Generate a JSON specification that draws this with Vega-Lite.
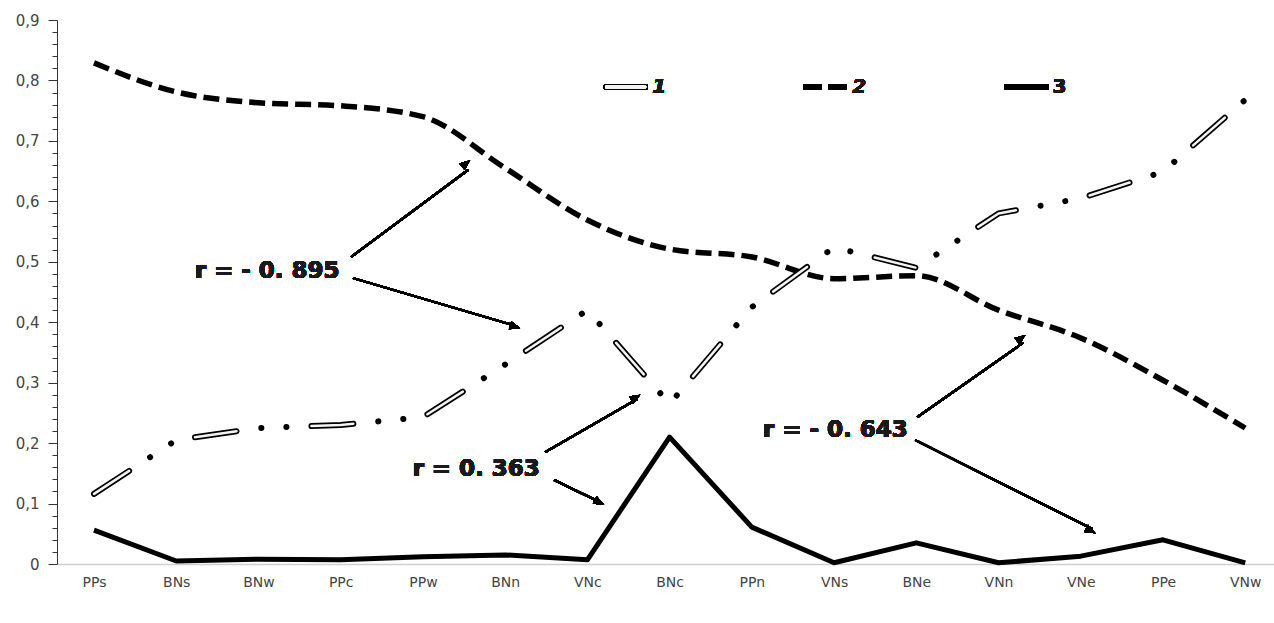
{
  "$schema": "https://vega.github.io/schema/vega-lite/v6.json",
  "width": 1217,
  "height": 544,
  "autosize": {"type": "none"},
  "padding": {"left": 57, "top": 20, "right": 0, "bottom": 59},
  "background": "white",
  "config": {"view": {"stroke": null}, "font": "DejaVu Sans"},
  "data": {"values": [
    {"station": "PPs", "idx": 0, "series": "1", "value": 0.116},
    {"station": "BNs", "idx": 1, "series": "1", "value": 0.205},
    {"station": "BNw", "idx": 2, "series": "1", "value": 0.225},
    {"station": "PPc", "idx": 3, "series": "1", "value": 0.23},
    {"station": "PPw", "idx": 4, "series": "1", "value": 0.243},
    {"station": "BNn", "idx": 5, "series": "1", "value": 0.33},
    {"station": "VNc", "idx": 6, "series": "1", "value": 0.42},
    {"station": "BNc", "idx": 7, "series": "1", "value": 0.265},
    {"station": "PPn", "idx": 8, "series": "1", "value": 0.425},
    {"station": "VNs", "idx": 9, "series": "1", "value": 0.524},
    {"station": "BNe", "idx": 10, "series": "1", "value": 0.49},
    {"station": "VNn", "idx": 11, "series": "1", "value": 0.58},
    {"station": "VNe", "idx": 12, "series": "1", "value": 0.605},
    {"station": "PPe", "idx": 13, "series": "1", "value": 0.649},
    {"station": "VNw", "idx": 14, "series": "1", "value": 0.768},
    {"station": "PPs", "idx": 0, "series": "2", "value": 0.829},
    {"station": "BNs", "idx": 1, "series": "2", "value": 0.781},
    {"station": "BNw", "idx": 2, "series": "2", "value": 0.763},
    {"station": "PPc", "idx": 3, "series": "2", "value": 0.758},
    {"station": "PPw", "idx": 4, "series": "2", "value": 0.74},
    {"station": "BNn", "idx": 5, "series": "2", "value": 0.655},
    {"station": "VNc", "idx": 6, "series": "2", "value": 0.569},
    {"station": "BNc", "idx": 7, "series": "2", "value": 0.521},
    {"station": "PPn", "idx": 8, "series": "2", "value": 0.508},
    {"station": "VNs", "idx": 9, "series": "2", "value": 0.472},
    {"station": "BNe", "idx": 10, "series": "2", "value": 0.477},
    {"station": "VNn", "idx": 11, "series": "2", "value": 0.42},
    {"station": "VNe", "idx": 12, "series": "2", "value": 0.374},
    {"station": "PPe", "idx": 13, "series": "2", "value": 0.304},
    {"station": "VNw", "idx": 14, "series": "2", "value": 0.225},
    {"station": "PPs", "idx": 0, "series": "3", "value": 0.056},
    {"station": "BNs", "idx": 1, "series": "3", "value": 0.005},
    {"station": "BNw", "idx": 2, "series": "3", "value": 0.008},
    {"station": "PPc", "idx": 3, "series": "3", "value": 0.007},
    {"station": "PPw", "idx": 4, "series": "3", "value": 0.012},
    {"station": "BNn", "idx": 5, "series": "3", "value": 0.015},
    {"station": "VNc", "idx": 6, "series": "3", "value": 0.007},
    {"station": "BNc", "idx": 7, "series": "3", "value": 0.21},
    {"station": "PPn", "idx": 8, "series": "3", "value": 0.061},
    {"station": "VNs", "idx": 9, "series": "3", "value": 0.002},
    {"station": "BNe", "idx": 10, "series": "3", "value": 0.035},
    {"station": "VNn", "idx": 11, "series": "3", "value": 0.002},
    {"station": "VNe", "idx": 12, "series": "3", "value": 0.013},
    {"station": "PPe", "idx": 13, "series": "3", "value": 0.04},
    {"station": "VNw", "idx": 14, "series": "3", "value": 0.002}
  ]},
  "encoding": {
    "x": {"field": "idx", "type": "quantitative",
      "scale": {"domain": [-0.45, 14.35], "nice": false, "zero": false},
      "axis": {"values": [0,1,2,3,4,5,6,7,8,9,10,11,12,13,14],
        "labelExpr": "['PPs','BNs','BNw','PPc','PPw','BNn','VNc','BNc','PPn','VNs','BNe','VNn','VNe','PPe','VNw'][datum.value]",
        "ticks": false, "grid": false, "domainColor": "#cfcfcf", "domainWidth": 1.5, "title": null,
        "labelFontSize": 14, "labelColor": "#444", "labelPadding": 11, "labelFlush": false, "labelFont": "DejaVu Sans"}},
    "y": {"field": "value", "type": "quantitative",
      "scale": {"domain": [0, 0.9], "nice": false, "zero": true},
      "axis": {"values": [0,0.02,0.04,0.06,0.08,0.1,0.12,0.14,0.16,0.18,0.2,0.22,0.24,0.26,0.28,0.3,0.32,0.34,0.36,0.38,0.4,0.42,0.44,0.46,0.48,0.5,0.52,0.54,0.56,0.58,0.6,0.62,0.64,0.66,0.68,0.7,0.72,0.74,0.76,0.78,0.8,0.82,0.84,0.86,0.88,0.9],
        "labelExpr": "abs(datum.value*10 - round(datum.value*10)) < 0.001 ? (datum.value == 0 ? '0' : replace(format(datum.value, '.1f'), '.', ',')) : ''",
        "tickSize": {"condition": {"test": "abs(datum.value*10 - round(datum.value*10)) < 0.001", "value": 9}, "value": 5},
        "tickColor": "#333", "domainColor": "#333", "grid": false, "title": null,
        "labelFontSize": 15, "labelColor": "#444", "labelPadding": 9, "labelFont": "DejaVu Sans"}}
  },
  "layer": [
    {
      "transform": [{"filter": "datum.series == '2'"}],
      "mark": {"type": "line", "color": "black", "strokeWidth": 5.5, "strokeDash": [16, 7], "interpolate": "monotone", "strokeCap": "butt"}
    },
    {
      "transform": [{"filter": "datum.series == '3'"}],
      "mark": {"type": "line", "color": "black", "strokeWidth": 5, "strokeJoin": "round"}
    },
    {
      "transform": [{"filter": "datum.series == '1'"}],
      "mark": {"type": "line", "color": "black", "strokeWidth": 6, "strokeCap": "round", "strokeJoin": "round", "strokeDash": [42, 25, 0.1, 25, 0.1, 25]}
    },
    {
      "transform": [{"filter": "datum.series == '1'"}],
      "mark": {"type": "line", "color": "#f4f4f4", "strokeWidth": 2.5, "strokeCap": "round", "strokeJoin": "round", "strokeDash": [42, 75.2]}
    },
    {"mark": {"type": "rule", "color": "black", "strokeWidth": 2},
     "encoding": {"x": {"datum": 3.127, "type": "quantitative"}, "y": {"datum": 0.508, "type": "quantitative"}, "x2": {"datum": 4.55}, "y2": {"datum": 0.652}}},
    {"mark": {"type": "point", "shape": "M0,0L-0.4,1L0.4,1Z", "filled": true, "color": "black", "opacity": 1, "size": 440, "angle": 50.8},
     "encoding": {"x": {"datum": 4.574, "type": "quantitative"}, "y": {"datum": 0.668, "type": "quantitative"}}},
    {"mark": {"type": "rule", "color": "black", "strokeWidth": 2},
     "encoding": {"x": {"datum": 3.151, "type": "quantitative"}, "y": {"datum": 0.473, "type": "quantitative"}, "x2": {"datum": 5.15}, "y2": {"datum": 0.393}}},
    {"mark": {"type": "point", "shape": "M0,0L-0.4,1L0.4,1Z", "filled": true, "color": "black", "opacity": 1, "size": 440, "angle": 106.7},
     "encoding": {"x": {"datum": 5.182, "type": "quantitative"}, "y": {"datum": 0.39, "type": "quantitative"}}},
    {"mark": {"type": "text", "text": "r = - 0. 895", "font": "DejaVu Sans", "fontSize": 23, "fontWeight": "bold", "color": "#1a1a1a", "align": "center", "baseline": "middle"},
     "encoding": {"x": {"datum": 2.105, "type": "quantitative"}, "y": {"datum": 0.485, "type": "quantitative"}}},
    {"mark": {"type": "rule", "color": "black", "strokeWidth": 2},
     "encoding": {"x": {"datum": 5.487, "type": "quantitative"}, "y": {"datum": 0.185, "type": "quantitative"}, "x2": {"datum": 6.61}, "y2": {"datum": 0.273}}},
    {"mark": {"type": "point", "shape": "M0,0L-0.4,1L0.4,1Z", "filled": true, "color": "black", "opacity": 1, "size": 440, "angle": 59.0},
     "encoding": {"x": {"datum": 6.642, "type": "quantitative"}, "y": {"datum": 0.28, "type": "quantitative"}}},
    {"mark": {"type": "rule", "color": "black", "strokeWidth": 2},
     "encoding": {"x": {"datum": 5.596, "type": "quantitative"}, "y": {"datum": 0.139, "type": "quantitative"}, "x2": {"datum": 6.17}, "y2": {"datum": 0.101}}},
    {"mark": {"type": "point", "shape": "M0,0L-0.4,1L0.4,1Z", "filled": true, "color": "black", "opacity": 1, "size": 440, "angle": 116.6},
     "encoding": {"x": {"datum": 6.204, "type": "quantitative"}, "y": {"datum": 0.098, "type": "quantitative"}}},
    {"mark": {"type": "text", "text": "r = 0. 363", "font": "DejaVu Sans", "fontSize": 23, "fontWeight": "bold", "color": "#1a1a1a", "align": "center", "baseline": "middle"},
     "encoding": {"x": {"datum": 4.647, "type": "quantitative"}, "y": {"datum": 0.157, "type": "quantitative"}}},
    {"mark": {"type": "rule", "color": "black", "strokeWidth": 2},
     "encoding": {"x": {"datum": 10.012, "type": "quantitative"}, "y": {"datum": 0.243, "type": "quantitative"}, "x2": {"datum": 11.3}, "y2": {"datum": 0.366}}},
    {"mark": {"type": "point", "shape": "M0,0L-0.4,1L0.4,1Z", "filled": true, "color": "black", "opacity": 1, "size": 440, "angle": 52.8},
     "encoding": {"x": {"datum": 11.326, "type": "quantitative"}, "y": {"datum": 0.379, "type": "quantitative"}}},
    {"mark": {"type": "rule", "color": "black", "strokeWidth": 2},
     "encoding": {"x": {"datum": 9.988, "type": "quantitative"}, "y": {"datum": 0.205, "type": "quantitative"}, "x2": {"datum": 12.14}, "y2": {"datum": 0.058}}},
    {"mark": {"type": "point", "shape": "M0,0L-0.4,1L0.4,1Z", "filled": true, "color": "black", "opacity": 1, "size": 440, "angle": 117.3},
     "encoding": {"x": {"datum": 12.178, "type": "quantitative"}, "y": {"datum": 0.051, "type": "quantitative"}}},
    {"mark": {"type": "text", "text": "r = - 0. 643", "font": "DejaVu Sans", "fontSize": 23, "fontWeight": "bold", "color": "#1a1a1a", "align": "center", "baseline": "middle"},
     "encoding": {"x": {"datum": 9.015, "type": "quantitative"}, "y": {"datum": 0.222, "type": "quantitative"}}},
    {"mark": {"type": "rule", "color": "black", "strokeWidth": 6, "strokeCap": "round"},
     "encoding": {"x": {"datum": 6.23, "type": "quantitative"}, "y": {"datum": 0.789, "type": "quantitative"}, "x2": {"datum": 6.70}}},
    {"mark": {"type": "rule", "color": "#f4f4f4", "strokeWidth": 2.5, "strokeCap": "round"},
     "encoding": {"x": {"datum": 6.23, "type": "quantitative"}, "y": {"datum": 0.789, "type": "quantitative"}, "x2": {"datum": 6.70}}},
    {"mark": {"type": "text", "text": "1", "font": "DejaVu Sans", "fontSize": 20, "fontWeight": "bold", "fontStyle": "italic", "color": "#1a1a1a", "align": "left", "baseline": "middle"},
     "encoding": {"x": {"datum": 6.79, "type": "quantitative"}, "y": {"datum": 0.789, "type": "quantitative"}}},
    {"mark": {"type": "rule", "color": "black", "strokeWidth": 6, "strokeDash": [18, 7]},
     "encoding": {"x": {"datum": 8.625, "type": "quantitative"}, "y": {"datum": 0.789, "type": "quantitative"}, "x2": {"datum": 9.148}}},
    {"mark": {"type": "text", "text": "2", "font": "DejaVu Sans", "fontSize": 20, "fontWeight": "bold", "fontStyle": "italic", "color": "#1a1a1a", "align": "left", "baseline": "middle"},
     "encoding": {"x": {"datum": 9.221, "type": "quantitative"}, "y": {"datum": 0.789, "type": "quantitative"}}},
    {"mark": {"type": "rule", "color": "black", "strokeWidth": 6},
     "encoding": {"x": {"datum": 11.07, "type": "quantitative"}, "y": {"datum": 0.789, "type": "quantitative"}, "x2": {"datum": 11.606}}},
    {"mark": {"type": "text", "text": "3", "font": "DejaVu Sans", "fontSize": 20, "fontWeight": "bold", "color": "#1a1a1a", "align": "left", "baseline": "middle"},
     "encoding": {"x": {"datum": 11.655, "type": "quantitative"}, "y": {"datum": 0.789, "type": "quantitative"}}}
  ]
}
